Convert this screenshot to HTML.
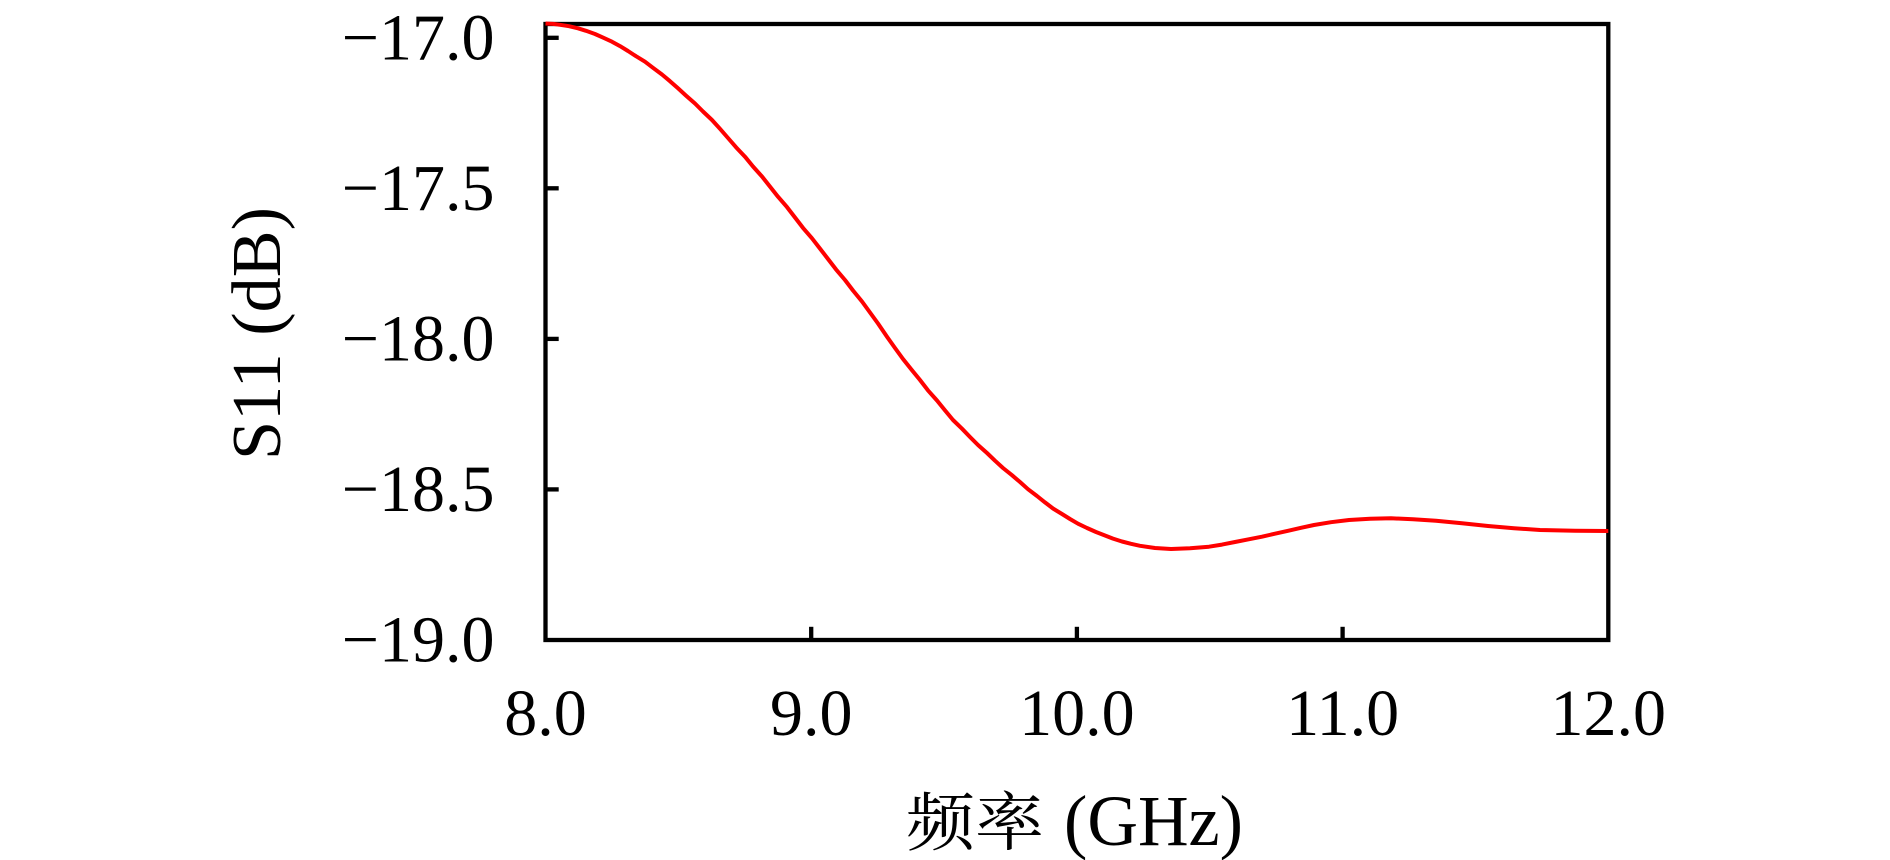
<!DOCTYPE html>
<html>
<head>
<meta charset="utf-8">
<style>
html,body{margin:0;padding:0;background:#fff;}
svg{display:block;}
.t{font-family:"Liberation Serif","Noto Serif CJK SC",serif;fill:#000;}
</style>
</head>
<body>
<svg width="1890" height="860" viewBox="0 0 1890 860" xmlns="http://www.w3.org/2000/svg">
<rect x="0" y="0" width="1890" height="860" fill="#fff"/>
<!-- ticks -->
<g stroke="#000" stroke-width="4.3">
  <line x1="545.5" y1="37.8" x2="558.7" y2="37.8"/>
  <line x1="545.5" y1="188.3" x2="558.7" y2="188.3"/>
  <line x1="545.5" y1="338.9" x2="558.7" y2="338.9"/>
  <line x1="545.5" y1="489.4" x2="558.7" y2="489.4"/>
  <line x1="811.2" y1="640" x2="811.2" y2="626.8"/>
  <line x1="1076.9" y1="640" x2="1076.9" y2="626.8"/>
  <line x1="1342.6" y1="640" x2="1342.6" y2="626.8"/>
</g>
<!-- frame -->
<rect x="545.5" y="24" width="1062.8" height="616" fill="none" stroke="#000" stroke-width="4.3"/>
<!-- curve -->
<polyline fill="none" stroke="#ff0000" stroke-width="4" stroke-linejoin="round" stroke-linecap="butt"
points="545.5,23.5 553,23.9 560,24.8 569,26.2 578,28.3 586,30.8 595,34 603,37.6 612,41.7 620,46.1 628,51 636,56.2 645,61.7 653,67.8 662,74.5 670,81.2 678,88.3 686,95.6 695,103.5 703,111.5 712,120 720,128.8 728,138 736,147.2 745,156.7 753,166.5 762,176.5 770,186.6 778,196.7 787,207.1 795,217.5 803,227.9 812,238.3 820,248.6 828,259 836,269.4 845,280 853,290.5 862,301.5 870,312.5 878,323.5 887,336.7 895,348 903,359 912,370.2 920,380 928,390.4 937,400.5 945,410.4 953,420 962,428.7 970,437 978,445 987,453 995,460.7 1003,468 1012,475.2 1020,482 1028,489.2 1037,496 1045,502.4 1053,508.5 1062,514 1070,519 1078,523.7 1087,528 1096,532 1105,535.5 1113,538.6 1122,541.5 1131,543.8 1140,545.8 1155,548 1171,549 1190,548.3 1209,546.7 1222,544.6 1235,542 1248,539.4 1262,536.7 1275,533.7 1288,530.8 1301,527.8 1314,525 1331,522.2 1349,520 1370,518.7 1391,518.3 1413,519.2 1436,520.7 1462,523.3 1488,526 1514,528.2 1540,530 1575,530.8 1608.3,531"/>
<!-- y tick labels -->
<g class="t" font-size="66" text-anchor="end">
  <text x="494.5" y="59.3">−17.0</text>
  <text x="494.5" y="209.8">−17.5</text>
  <text x="494.5" y="360.4">−18.0</text>
  <text x="494.5" y="510.9">−18.5</text>
  <text x="494.5" y="661.5">−19.0</text>
</g>
<!-- x tick labels -->
<g class="t" font-size="66" text-anchor="middle">
  <text x="545.5" y="735">8.0</text>
  <text x="811.2" y="735">9.0</text>
  <text x="1076.9" y="735">10.0</text>
  <text x="1342.6" y="735">11.0</text>
  <text x="1608.3" y="735">12.0</text>
</g>
<!-- y label -->
<text class="t" font-size="70" text-anchor="middle" transform="translate(280,333.5) rotate(-90)" textLength="253" lengthAdjust="spacingAndGlyphs">S11 (dB)</text>
<!-- x label -->
<text class="t" font-size="64" x="906" y="845" textLength="138" lengthAdjust="spacingAndGlyphs" style="font-family:'Noto Serif CJK SC','Noto Sans CJK SC',serif;">频率</text>
<text class="t" font-size="72" x="1064" y="845" textLength="179" lengthAdjust="spacingAndGlyphs">(GHz)</text>
</svg>
</body>
</html>
